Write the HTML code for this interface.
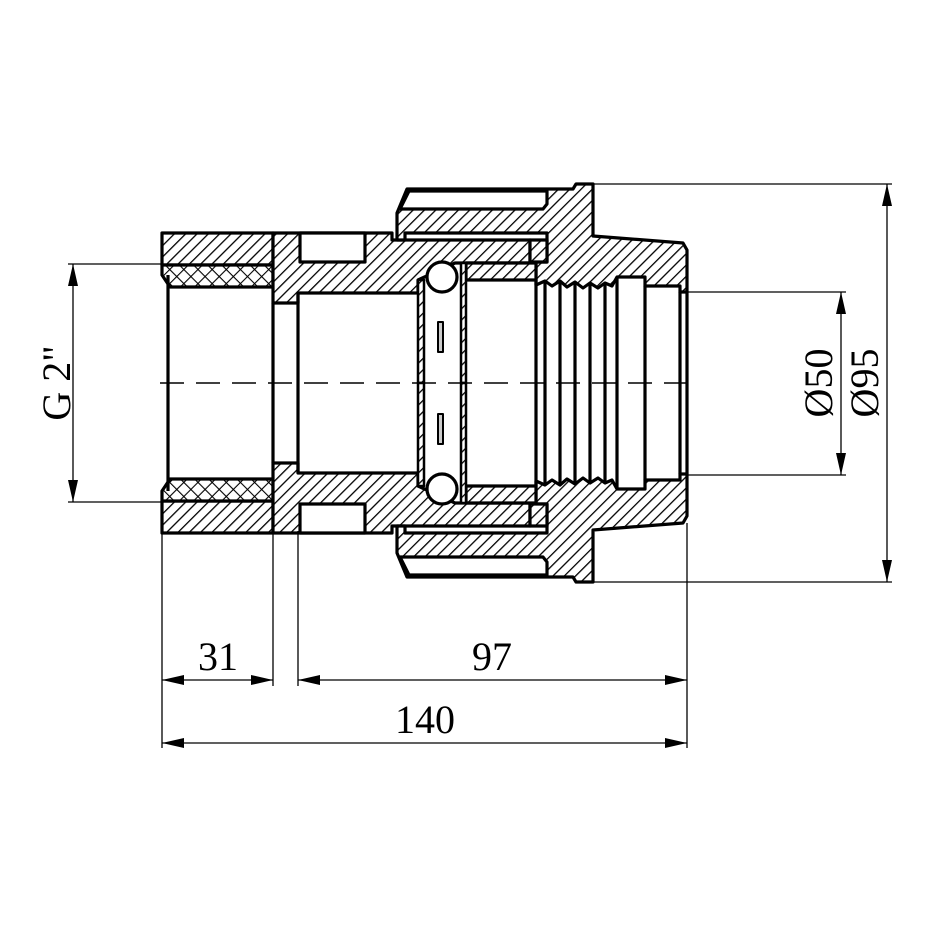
<!DOCTYPE html>
<html><head><meta charset="utf-8"><style>body{margin:0;background:#fff}svg{display:block}.hf{fill:var(--hp)}.xf{fill:var(--xp)}</style></head><body>
<svg width="930" height="930" viewBox="0 0 930 930" xmlns="http://www.w3.org/2000/svg">
<defs>
<pattern id="h" width="8" height="8" patternUnits="userSpaceOnUse" patternTransform="rotate(45)">
<rect width="8" height="8" fill="#fff"/><line x1="0" y1="0" x2="0" y2="8" stroke="#000" stroke-width="2.6"/></pattern>
<pattern id="h2" width="8" height="8" patternUnits="userSpaceOnUse" patternTransform="rotate(-45)">
<rect width="8" height="8" fill="#fff"/><line x1="0" y1="0" x2="0" y2="8" stroke="#000" stroke-width="2.6"/></pattern>
<pattern id="x" width="10" height="10" patternUnits="userSpaceOnUse" patternTransform="rotate(45)">
<rect width="10" height="10" fill="#fff"/><line x1="0" y1="0" x2="0" y2="10" stroke="#000" stroke-width="2.2"/><line x1="0" y1="0" x2="10" y2="0" stroke="#000" stroke-width="2.2"/></pattern>
<g id="half" stroke="#000" stroke-width="3.2" stroke-linejoin="round">
<rect class="hf" x="162" y="233" width="111" height="32"/>
<polygon class="xf" points="162,265 273,265 273,287 170,287 162,275"/>
<polygon class="hf" points="273,233 392,233 392,240 530,240 530,263 455,263 418,280 418,293 298,293 298,303 273,303"/>
<rect x="300" y="233" width="65" height="29" fill="#fff"/>
<polygon class="hf" points="397,213 407,189 573,189 576,184 593,184 593,236 683,243 687,250 687,292 680,292 680,286 645,286 645,277 617,277 612,286 605,283 598,288 590,283 583,288 575,282 567,287 560,281 552,286 545,281 536,285 536,262 547,262 547,233 405,233 405,240 397,240"/>
<polygon points="409,191 547,191 547,204 543,209 400,209" fill="#fff"/>
<rect class="hf" x="530" y="240" width="17" height="22"/>
<rect class="hf" x="466" y="263" width="70" height="17"/>
<rect class="hf" x="418" y="280" width="6" height="103" stroke-width="2.5"/>
<rect class="hf" x="461" y="263" width="5" height="120" stroke-width="2.5"/>
<circle cx="442" cy="277" r="15" fill="#fff"/>
<rect x="438" y="322" width="5" height="30" fill="#ccc" stroke-width="2"/>
<g fill="none">
<line x1="168" y1="275" x2="168" y2="383"/>
<line x1="273" y1="303" x2="273" y2="383"/>
<line x1="298" y1="293" x2="298" y2="383"/>
<line x1="536" y1="280" x2="536" y2="383"/>
<line x1="545" y1="281" x2="545" y2="383"/>
<line x1="560" y1="281" x2="560" y2="383"/>
<line x1="575" y1="282" x2="575" y2="383"/>
<line x1="590" y1="283" x2="590" y2="383"/>
<line x1="605" y1="283" x2="605" y2="383"/>
<line x1="617" y1="277" x2="617" y2="383"/>
<line x1="645" y1="286" x2="645" y2="383"/>
<line x1="680" y1="292" x2="680" y2="383"/>
<line x1="687" y1="292" x2="687" y2="383"/>
</g>
</g>
</defs>
<use href="#half" style="--hp:url(#h);--xp:url(#x)"/>
<use href="#half" style="--hp:url(#h2);--xp:url(#x)" transform="translate(0,766) scale(1,-1)"/>
<line x1="160" y1="383" x2="690" y2="383" stroke="#000" stroke-width="1.5" stroke-dasharray="24,12"/>
<g stroke="#000" stroke-width="1.3" fill="none">
<line x1="68" y1="264" x2="162" y2="264"/><line x1="68" y1="502" x2="162" y2="502"/>
<line x1="73" y1="264" x2="73" y2="502"/>
<line x1="687" y1="292" x2="846" y2="292"/><line x1="687" y1="475" x2="846" y2="475"/>
<line x1="841" y1="292" x2="841" y2="475"/>
<line x1="593" y1="184" x2="892" y2="184"/><line x1="593" y1="582" x2="892" y2="582"/>
<line x1="887" y1="184" x2="887" y2="582"/>
<line x1="162" y1="531" x2="162" y2="748"/><line x1="273" y1="531" x2="273" y2="686"/>
<line x1="298" y1="531" x2="298" y2="686"/><line x1="687" y1="523" x2="687" y2="748"/>
<line x1="162" y1="680" x2="273" y2="680"/><line x1="298" y1="680" x2="687" y2="680"/>
<line x1="162" y1="743" x2="687" y2="743"/>
</g>
<g fill="#000">
<polygon points="73,264 68,286 78,286"/><polygon points="73,502 68,480 78,480"/>
<polygon points="841,292 836,314 846,314"/><polygon points="841,475 836,453 846,453"/>
<polygon points="887,184 882,206 892,206"/><polygon points="887,582 882,560 892,560"/>
<polygon points="162,680 184,675 184,685"/><polygon points="273,680 251,675 251,685"/>
<polygon points="298,680 320,675 320,685"/><polygon points="687,680 665,675 665,685"/>
<polygon points="162,743 184,738 184,748"/><polygon points="687,743 665,738 665,748"/>
</g>
<g font-family="Liberation Serif, serif" font-size="40" fill="#000" text-anchor="middle">
<text x="218" y="670">31</text>
<text x="492" y="670">97</text>
<text x="425" y="733">140</text>
<text transform="translate(70,383) rotate(-90)">G 2"</text>
<text transform="translate(832,383) rotate(-90)">Ø50</text>
<text transform="translate(878,383) rotate(-90)">Ø95</text>
</g>
</svg>
</body></html>
